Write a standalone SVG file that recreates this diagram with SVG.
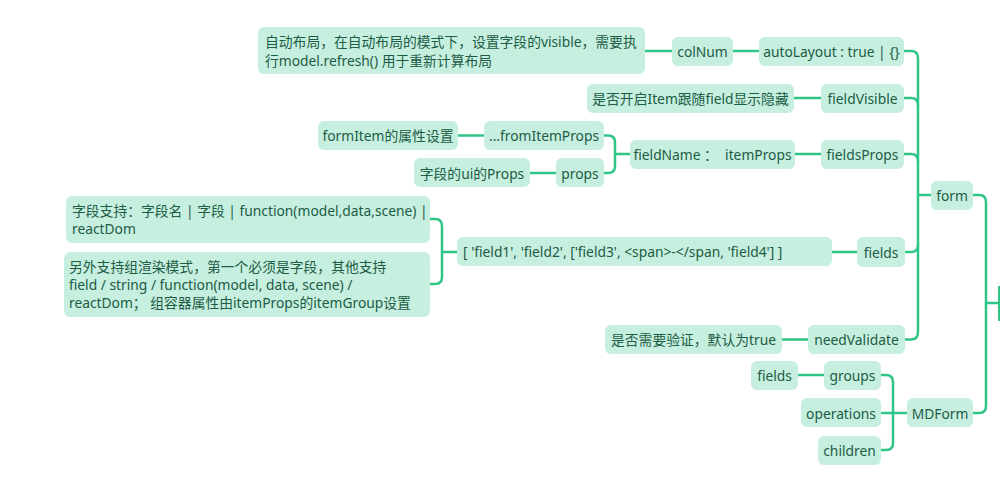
<svg xmlns="http://www.w3.org/2000/svg" width="1000" height="491" viewBox="0 0 1000 491">
<style>
.n{fill:#c6efdf;}
.t{font-family:"Noto Sans","Noto Sans CJK SC",sans-serif;font-size:13.8px;fill:#1d5c45;}
.c{text-anchor:middle;dominant-baseline:central;}
.l{fill:none;stroke:#2fc587;stroke-width:2.5;stroke-linecap:round;stroke-linejoin:round;}
</style>
<rect width="1000" height="491" fill="#ffffff"/>
<g id="connectors">
<path class="l" d="M645,51 H672 M733,51 H759 M794,98 H821 M795,154 H821 M458,135.5 H484 M530,173 H556 M832,252 H857 M782,339.5 H808 M798,375 H824"/>
<path class="l" d="M904,51 H911 Q918,51 918,58 V332 Q918,339.5 911,339.5 H904"/>
<path class="l" d="M904,98 H911 Q918,98 918,105 M904,154 H911 Q918,154 918,161 M904,252 H911 Q918,252 918,245 M918,195 H931"/>
<path class="l" d="M973,195 H979 Q986,195 986,202 V406 Q986,413 979,413 H973 M986,303 H1000"/>
<path class="l" d="M881,375 H886 Q893,375 893,382 V443 Q893,450 886,450 H881 M881,413 H907"/>
<path class="l" d="M604,135.5 H608 Q615,135.5 615,142.5 V166 Q615,173 608,173 H604 M615,154 H630"/>
<path class="l" d="M430,219 H435 Q442,219 442,226 V277 Q442,284 435,284 H430 M442,252 H457"/>
<rect x="998" y="286" width="2.5" height="35" fill="#2fc587"/>
</g>
<g id="n-desc-auto"><rect class="n" x="258" y="27" width="387" height="47" rx="6"/><text class="t" x="265" y="47">自动布局，在自动布局的模式下，设置字段的visible，需要执</text><text class="t" x="265" y="66">行model.refresh() 用于重新计算布局</text></g>
<g id="n-colNum"><rect class="n" x="672" y="37" width="61" height="29" rx="6"/><text class="t c" x="702.5" y="51">colNum</text></g>
<g id="n-autoLayout"><rect class="n" x="759" y="37" width="145" height="29" rx="6"/><text class="t c" x="831.5" y="51">autoLayout : true | {}</text></g>
<g id="n-desc-visible"><rect class="n" x="587" y="84" width="207" height="29" rx="6"/><text class="t c" x="690.5" y="98">是否开启Item跟随field显示隐藏</text></g>
<g id="n-fieldVisible"><rect class="n" x="821" y="84" width="83" height="29" rx="6"/><text class="t c" x="862.5" y="98">fieldVisible</text></g>
<g id="n-formItem-desc"><rect class="n" x="318" y="121" width="140" height="29" rx="6"/><text class="t c" x="388" y="135.5">formItem的属性设置</text></g>
<g id="n-fromItemProps"><rect class="n" x="484" y="121" width="120" height="29" rx="6"/><text class="t c" x="544" y="135.5">...fromItemProps</text></g>
<g id="n-ui-desc"><rect class="n" x="414" y="158" width="116" height="29" rx="6"/><text class="t c" x="472" y="173">字段的ui的Props</text></g>
<g id="n-props"><rect class="n" x="556" y="158" width="48" height="29" rx="6"/><text class="t c" x="580" y="173">props</text></g>
<g id="n-fieldName"><rect class="n" x="630" y="140" width="165" height="29" rx="6"/><text class="t c" x="712.5" y="154" xml:space="preserve">fieldName ：  itemProps</text></g>
<g id="n-fieldsProps"><rect class="n" x="821" y="140" width="83" height="29" rx="6"/><text class="t c" x="862.5" y="154">fieldsProps</text></g>
<g id="n-form"><rect class="n" x="931" y="181" width="42" height="29" rx="6"/><text class="t c" x="952" y="195">form</text></g>
<g id="n-fields-desc1"><rect class="n" x="66" y="196" width="364" height="47" rx="6"/><text class="t" x="72" y="216">字段支持：字段名 | 字段 | function(model,data,scene) |</text><text class="t" x="72" y="234">reactDom</text></g>
<g id="n-fields-desc2"><rect class="n" x="64" y="252" width="366" height="65" rx="6"/><text class="t" x="69" y="272">另外支持组渲染模式，第一个必须是字段，其他支持</text><text class="t" x="69" y="290">field / string / function(model, data, scene) /</text><text class="t" x="69" y="308">reactDom；  组容器属性由itemProps的itemGroup设置</text></g>
<g id="n-array"><rect class="n" x="457" y="237" width="375" height="29" rx="6"/><text class="t" x="463" y="256.5">[ 'field1', 'field2', ['field3', &lt;span&gt;-&lt;/span, 'field4'] ]</text></g>
<g id="n-fields"><rect class="n" x="857" y="237" width="48" height="30" rx="6"/><text class="t c" x="881" y="252">fields</text></g>
<g id="n-validate-desc"><rect class="n" x="605" y="325" width="177" height="29" rx="6"/><text class="t c" x="693.5" y="339.5">是否需要验证，默认为true</text></g>
<g id="n-needValidate"><rect class="n" x="808" y="325" width="97" height="29" rx="6"/><text class="t c" x="856.5" y="339.5">needValidate</text></g>
<g id="n-fields2"><rect class="n" x="751" y="361" width="47" height="29" rx="6"/><text class="t c" x="774.5" y="375">fields</text></g>
<g id="n-groups"><rect class="n" x="824" y="361" width="57" height="29" rx="6"/><text class="t c" x="852.5" y="375">groups</text></g>
<g id="n-operations"><rect class="n" x="801" y="398" width="80" height="29" rx="6"/><text class="t c" x="841" y="413">operations</text></g>
<g id="n-children"><rect class="n" x="818" y="436" width="63" height="29" rx="6"/><text class="t c" x="849.5" y="450">children</text></g>
<g id="n-MDForm"><rect class="n" x="907" y="398" width="66" height="29" rx="6"/><text class="t c" x="940" y="413">MDForm</text></g>
</svg>
